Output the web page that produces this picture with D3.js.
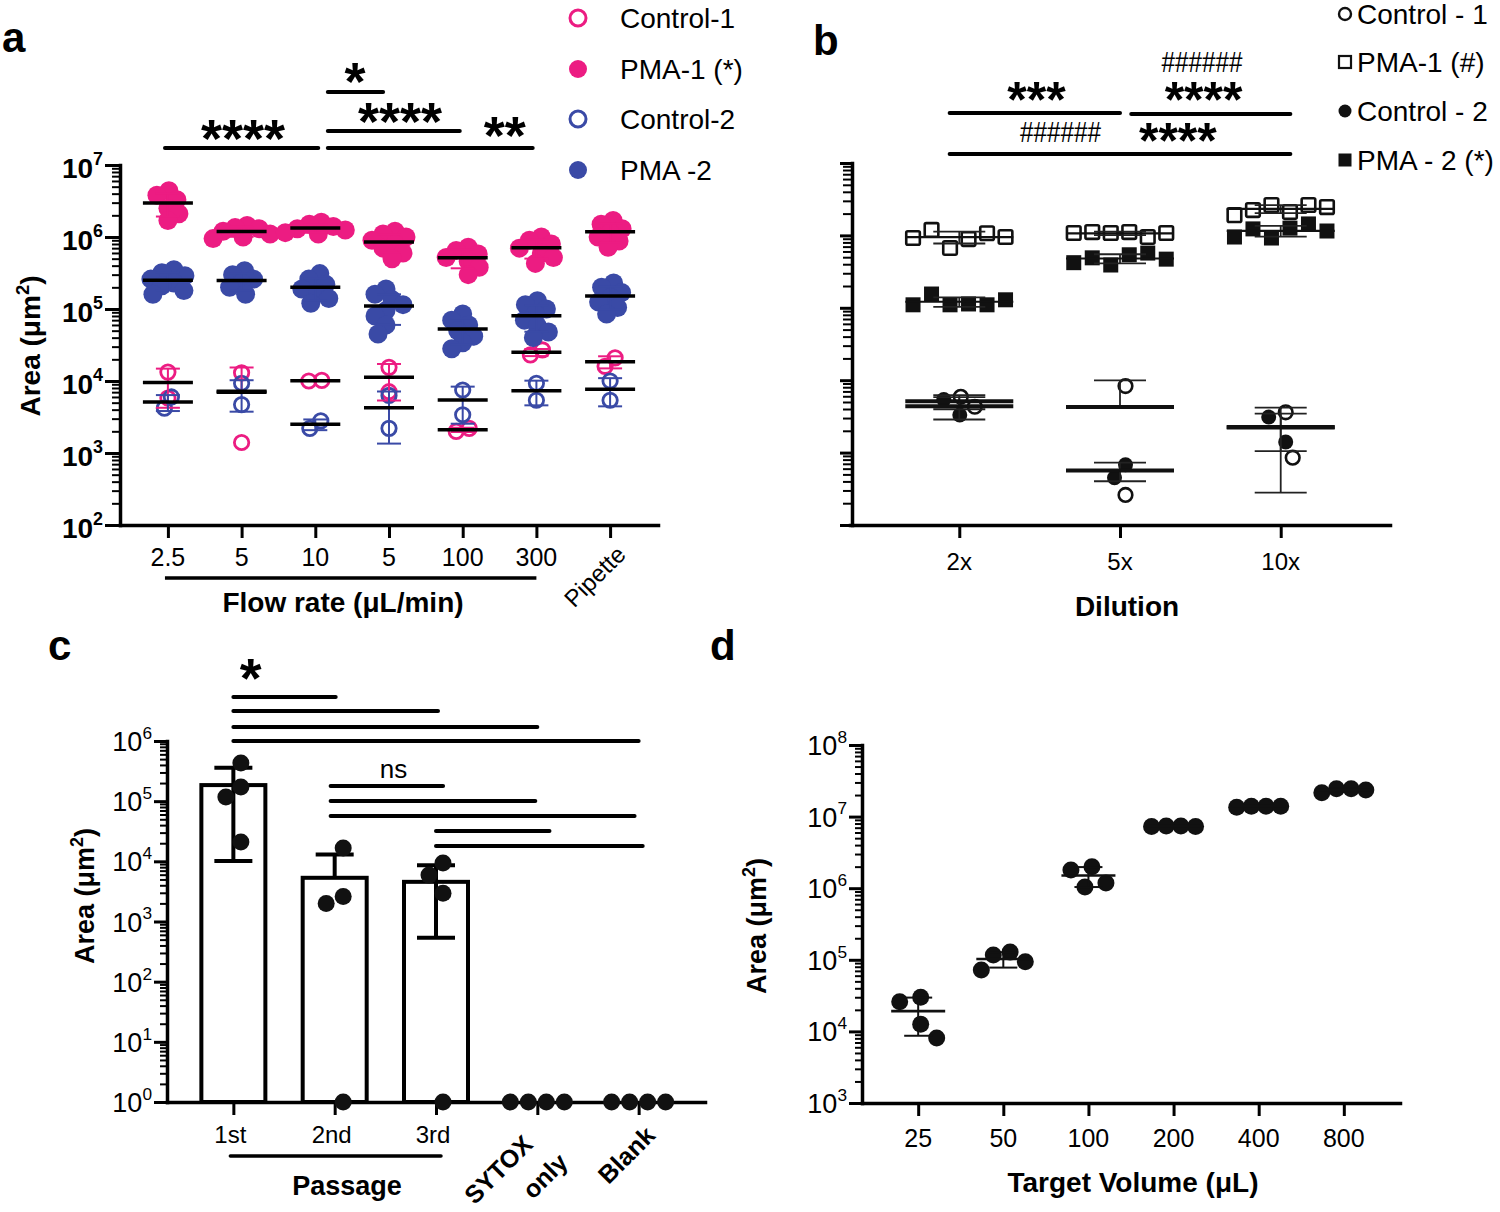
<!DOCTYPE html>
<html><head><meta charset="utf-8">
<script src="https://cdn.jsdelivr.net/npm/d3@7"></script>
<style>body{margin:0;background:#fff}</style>
</head><body><script>
// ================= DATA =================
// Panel a
const flowLabels = ["2.5","5","10","5","100","300","Pipette"];
const aControl1 = [[1.33e4,5.8e3],[1.3e4,1.4e3],[1.02e4,1.0e4],[1.55e4,7.1e3],[2.2e3,2.0e3],[2.7e4,2.3e4],[2.1e4,1.6e4]];
const aPMA1 = [[4.4e6,3.8e6,3.3e6,2.5e6,2.1e6,1.7e6],
  [1.45e6,1.35e6,1.3e6,1.2e6,1.1e6,1.0e6,0.95e6],
  [1.6e6,1.5e6,1.4e6,1.3e6,1.25e6,1.15e6,1.1e6],
  [1.2e6,1.1e6,1.0e6,0.9e6,0.8e6,0.7e6,0.6e6,0.5e6],
  [7.2e5,6.5e5,5.8e5,5.2e5,4.6e5,3.8e5,3.0e5],
  [1.0e6,9.0e5,8.0e5,7.0e5,6.0e5,5.2e5,4.3e5],
  [1.7e6,1.5e6,1.3e6,1.15e6,1.0e6,0.88e6,0.72e6]];
const aControl2 = [[6.0e3,4.2e3],[9.3e3,4.7e3],[2.8e3,2.2e3],[6.3e3,2.2e3],[7.5e3,3.4e3],[9.3e3,5.4e3],[1.0e4,5.4e3]];
const aPMA2 = [[3.5e5,3.2e5,2.9e5,2.6e5,2.3e5,2.1e5,1.8e5,1.6e5],
  [3.4e5,3.0e5,2.6e5,2.3e5,2.0e5,1.6e5],
  [3.1e5,2.6e5,2.2e5,1.9e5,1.65e5,1.4e5,1.2e5],
  [1.9e5,1.6e5,1.35e5,1.15e5,0.95e5,0.8e5,0.6e5,0.45e5],
  [8.5e4,7.0e4,6.0e4,5.0e4,4.2e4,3.4e4,2.8e4],
  [1.3e5,1.15e5,1.0e5,8.5e4,7.0e4,5.8e4,4.8e4,4.0e4],
  [2.3e5,2.0e5,1.7e5,1.45e5,1.25e5,1.05e5,0.85e5]];
const aLegend = ["Control-1","PMA-1 (*)","Control-2","PMA -2"];
const aSig = [{from:-0.04,to:2.04,label:"****",at:1.02},
  {from:2.17,to:2.92,label:"*",at:2.54},
  {from:2.17,to:3.96,label:"****",at:3.15},
  {from:2.17,to:4.95,label:"**",at:4.57}];

// Panel b
const dilutionLabels = ["2x","5x","10x"];
const bControl1 = [[5.9e3,4.3e3],[8.3e3,2.6e2],[3.6e3,8.5e2]];
const bPMA1 = [[9.2e5,1.19e6,6.7e5,8.9e5,1.07e6,9.5e5],
  [1.08e6,1.11e6,1.08e6,1.11e6,9.5e5,1.08e6],
  [1.9e6,2.24e6,2.63e6,2.1e6,2.63e6,2.46e6]];
const bControl2 = [[3.3e3,5.4e3],[6.8e2,4.5e2],[3.1e3,1.4e3]];
const bPMA2 = [[1.1e5,1.55e5,1.1e5,1.13e5,1.1e5,1.29e5],
  [4.2e5,4.9e5,3.9e5,5.4e5,5.7e5,4.7e5],
  [9.5e5,1.23e6,9.2e5,1.26e6,1.44e6,1.15e6]];
const bLegend = ["Control - 1","PMA-1 (#)","Control - 2","PMA - 2 (*)"];
const bSig = [{from:-0.06,to:1.0,labels:[{t:"***",at:0.48}]},
  {from:1.07,to:2.06,labels:[{t:"****",at:1.52},{t:"######",at:1.51}]},
  {from:-0.06,to:2.06,labels:[{t:"######",at:0.63},{t:"****",at:1.36}]}];

// Panel c
const passageLabels = ["1st","2nd","3rd","SYTOX only","Blank"];
const cValues = [[4.3e5,1.72e5,1.17e5,2.1e4],[1.67e4,2.6e3,2.0e3,1],[9.4e3,5.9e3,2.95e3,1],[1,1,1,1],[1,1,1,1]];
const cSig = [{from:0,to:1.01},{from:0,to:2.02},{from:0,to:3.0},{from:0,to:4.0},
  {from:0.96,to:2.07},{from:0.96,to:2.98},{from:0.96,to:3.96},{from:2.0,to:3.12},{from:2.0,to:4.04}];
const cSigLabels = [{t:"*",at:0.17},{t:"ns",at:1.58}];

// Panel d
const volumeLabels = ["25","50","100","200","400","800"];
const dValues = [[8.1e3,2.6e4,3.0e4,1.26e4],[1.28e5,1.17e5,9.4e4,7.2e4],[1.8e6,2.0e6,1.04e6,1.18e6],
  [7.3e6,7.4e6,7.4e6,7.3e6],[1.35e7,1.4e7,1.4e7,1.4e7],[2.15e7,2.45e7,2.35e7,2.45e7]];

// ================= DRAWING =================
const pink = "#EC1C82", blue = "#3A4AA6";
const svg = d3.select("body").append("svg").attr("width",1500).attr("height",1212)
  .style("font-family",'"Liberation Sans", Arial, Helvetica, sans-serif');

function swarm(items, dmin, step, maxSpan){
  const order = items.slice().sort((a,b)=>a.y-b.y);
  const placed = []; let bal = 0;
  for(const p of order){
    for(let k=0;k<500;k++){
      const c = k===0?[0]:(bal<0?[k*step,-k*step]:[-k*step,k*step]);
      let ok = null;
      for(const dx of c){ if(placed.every(q=>Math.hypot(q.dx-dx,q.y-p.y)>=dmin)){ok=dx;break;} }
      if(ok!==null){p.dx=ok;break;}
    }
    placed.push(p); bal += Math.sign(p.dx);
  }
  const lo = d3.min(items,d=>d.dx), hi = d3.max(items,d=>d.dx), mid=(lo+hi)/2;
  const k = (maxSpan && hi-lo>maxSpan) ? maxSpan/(hi-lo) : 1;
  items.forEach(d=>d.dx=(d.dx-mid)*k);
  return items;
}
function stats(v){ const m=d3.mean(v); const s=v.length>1?d3.deviation(v):0; return {m,s}; }

function logY(g, y, x0, lo, hi, o){
  const decs = d3.range(Math.round(Math.log10(lo)), Math.round(Math.log10(hi))+1).map(e=>Math.pow(10,e));
  const minors=[]; for(let i=0;i<decs.length-1;i++) for(let k=2;k<10;k++) minors.push(decs[i]*k);
  const gm = g.append("g").attr("transform",`translate(${x0},0)`)
    .call(d3.axisLeft(y).tickValues(minors).tickSize(o.minor).tickSizeOuter(0).tickFormat(""));
  gm.select(".domain").remove();
  gm.selectAll(".tick line").attr("stroke","#000").attr("stroke-width",2);
  const gM = g.append("g").attr("transform",`translate(${x0},0)`)
    .call(d3.axisLeft(y).tickValues(decs).tickSize(o.major).tickSizeOuter(0).tickFormat(""));
  gM.select(".domain").attr("stroke","#000").attr("stroke-width",3.5).attr("stroke-linecap","square");
  gM.selectAll(".tick line").attr("stroke","#000").attr("stroke-width",3);
  if(o.labels){
    decs.forEach(d=>{
      const t = g.append("text").attr("x",x0-o.major-2).attr("y",y(d)+o.dy)
        .attr("text-anchor","end").attr("font-size",o.fs).attr("font-weight",o.bold?"bold":"normal");
      t.append("tspan").text("10");
      t.append("tspan").attr("dy",-o.fs*0.45).attr("font-size",o.fs*0.64).text(Math.round(Math.log10(d)));
    });
  }
}
function xAxis(g, x, y0, len){
  const ga = g.append("g").attr("transform",`translate(0,${y0})`)
    .call(d3.axisBottom(x).tickSize(len).tickSizeOuter(0).tickFormat(""));
  ga.select(".domain").attr("stroke","#000").attr("stroke-width",3.5).attr("stroke-linecap","square");
  ga.selectAll(".tick line").attr("stroke","#000").attr("stroke-width",3);
}
function areaLabel(g, x, y, fs){
  const t = g.append("text").attr("transform",`translate(${x},${y}) rotate(-90)`)
    .attr("text-anchor","middle").attr("font-size",fs).attr("font-weight","bold");
  t.append("tspan").text("Area (μm");
  t.append("tspan").attr("dy",-fs*0.4).attr("font-size",fs*0.66).text("2");
  t.append("tspan").attr("dy",fs*0.4).text(")");
}
function hline(g,x1,x2,y,w,color,cap){
  g.append("line").attr("x1",x1).attr("x2",x2).attr("y1",y).attr("y2",y)
   .attr("stroke",color||"#000").attr("stroke-width",w).attr("stroke-linecap",cap||"butt");
}
function errBar(g, x, y, m, s, half, w, color){
  const top = y(m+s), lowV = m-s;
  const bot = lowV>y.domain()[0] ? y(lowV) : y(m);
  g.append("line").attr("x1",x).attr("x2",x).attr("y1",top).attr("y2",bot).attr("stroke",color).attr("stroke-width",w);
  hline(g,x-half,x+half,top,w,color);
  if(lowV>y.domain()[0]) hline(g,x-half,x+half,bot,w,color);
}
function stars(g, x, yc, label, fs){
  g.append("text").attr("x",x).attr("y",yc+fs*0.49).attr("text-anchor","middle")
    .attr("font-size",fs).attr("font-weight","bold").text(label);
}
function hashes(g, x, yc, label, fs, len){
  g.append("text").attr("x",x).attr("y",yc+fs*0.36).attr("text-anchor","middle")
    .attr("font-size",fs).attr("textLength",len).attr("lengthAdjust","spacingAndGlyphs").text(label);
}
function panelLetter(x,y,l){ svg.append("text").attr("x",x).attr("y",y).attr("font-size",42).attr("font-weight","bold").text(l); }

// ---------------- Panel a ----------------
{
  const g = svg.append("g");
  const x = d3.scalePoint().domain(d3.range(flowLabels.length)).range([120,658]).padding(0.65);
  const xi = i => x(0) + i*x.step();
  const y = d3.scaleLog().domain([1e2,1e7]).range([525,165]);
  logY(g,y,120,1e2,1e7,{major:15,minor:8,labels:true,bold:true,fs:28,dy:13});
  xAxis(g,x,525,13);
  const series = [{v:aControl1,c:pink,f:false},{v:aPMA1,c:pink,f:true},{v:aControl2,c:blue,f:false},{v:aPMA2,c:blue,f:true}];
  const pts = g.append("g"), eb = g.append("g"), ml = g.append("g");
  series.forEach(s=>{
    s.v.forEach((vals,ci)=>{
      const items = swarm(vals.map(v=>({v,y:y(v)})), s.f?12:13, 1);
      items.forEach(p=>{
        const c = pts.append("circle").attr("cx",x(ci)+p.dx).attr("cy",p.y);
        if(s.f) c.attr("r",9.5).attr("fill",s.c);
        else c.attr("r",7.2).attr("fill","none").attr("stroke",s.c).attr("stroke-width",2.8);
      });
      const st = stats(vals);
      errBar(eb,x(ci),y,st.m,st.s,12,2,s.c);
      hline(ml,x(ci)-25,x(ci)+25,y(st.m),3.5,"#000");
    });
  });
  flowLabels.forEach((l,i)=>{
    if(l==="Pipette"){
      g.append("text").attr("transform",`translate(${x(i)+17},${556}) rotate(-45)`).attr("text-anchor","end")
        .attr("font-size",24).text(l);
    } else {
      g.append("text").attr("x",x(i)).attr("y",566).attr("text-anchor","middle").attr("font-size",25).text(l);
    }
  });
  hline(g,xi(-0.04),x(5),578,3.5,"#000");
  g.append("text").attr("x",343).attr("y",612).attr("text-anchor","middle").attr("font-size",28).attr("font-weight","bold").text("Flow rate (μL/min)");
  areaLabel(g,40,346,28);
  const levels = [148,92,131,148], lab = [131,74,114,128];
  aSig.forEach((s,i)=>{
    hline(g,xi(s.from),xi(s.to),levels[i],4,"#000","round");
    stars(g,xi(s.at),lab[i],s.label,54);
  });
  const ly = [18,69,119,170];
  aLegend.forEach((t,i)=>{
    const col = i<2?pink:blue, filled = i%2===1;
    const c = g.append("circle").attr("cx",578).attr("cy",ly[i]);
    if(filled) c.attr("r",9).attr("fill",col); else c.attr("r",8).attr("fill","none").attr("stroke",col).attr("stroke-width",3);
    g.append("text").attr("x",620).attr("y",ly[i]+10).attr("font-size",28).text(t);
  });
}

// ---------------- Panel b ----------------
{
  const g = svg.append("g");
  const x = d3.scalePoint().domain(d3.range(dilutionLabels.length)).range([850,1390]).padding(0.68);
  const xi = i => x(0) + i*x.step();
  const y = d3.scaleLog().domain([1e2,1e7]).range([525,163]);
  logY(g,y,852,1e2,1e7,{major:12,minor:9,labels:false});
  xAxis(g,x,525,13);
  const pts = g.append("g"), eb = g.append("g"), ml = g.append("g");
  [{v:bPMA1,f:false},{v:bPMA2,f:true}].forEach(s=>{
    s.v.forEach((vals,ci)=>{
      vals.forEach((v,i)=>{
        const cx = x(ci) + (i-(vals.length-1)/2)*18.5, cy = y(v);
        if(s.f) pts.append("rect").attr("x",cx-7.5).attr("y",cy-7.5).attr("width",15).attr("height",15).attr("fill","#111");
        else pts.append("rect").attr("x",cx-6.8).attr("y",cy-6.8).attr("width",13.6).attr("height",13.6).attr("rx",1.5)
          .attr("fill","none").attr("stroke","#111").attr("stroke-width",2.6);
      });
      const st = stats(vals);
      errBar(eb,x(ci),y,st.m,st.s,26,1.8,"#222");
      hline(ml,x(ci)-54,x(ci)+54,y(st.m),2.2,"#111");
    });
  });
  dilutionLabels.forEach((l,ci)=>{
    const items = [];
    bControl1[ci].forEach(v=>items.push({v,y:y(v),f:false}));
    bControl2[ci].forEach(v=>items.push({v,y:y(v),f:true}));
    swarm(items,17,1);
    items.forEach(p=>{
      const c = pts.append("circle").attr("cx",x(ci)+p.dx).attr("cy",p.y);
      if(p.f) c.attr("r",7.5).attr("fill","#111");
      else c.attr("r",6.8).attr("fill","none").attr("stroke","#111").attr("stroke-width",2.6);
    });
    [bControl1[ci],bControl2[ci]].forEach(vals=>{
      const st = stats(vals);
      errBar(eb,x(ci),y,st.m,st.s,26,1.8,"#222");
      hline(ml,x(ci)-54,x(ci)+54,y(st.m),4,"#111");
    });
  });
  dilutionLabels.forEach((l,i)=>g.append("text").attr("x",x(i)).attr("y",570).attr("text-anchor","middle").attr("font-size",24).text(l));
  g.append("text").attr("x",1127).attr("y",616).attr("text-anchor","middle").attr("font-size",28).attr("font-weight","bold").text("Dilution");
  const levels = [113,114,154];
  const labY = [[92],[92,62],[132,133]];
  bSig.forEach((s,i)=>{
    hline(g,xi(s.from),xi(s.to),levels[i],4,"#000","round");
    s.labels.forEach((lb,j)=>{
      if(lb.t[0]==="#") hashes(g,xi(lb.at),labY[i][j],lb.t,29,81);
      else stars(g,xi(lb.at),labY[i][j],lb.t,50);
    });
  });
  const ly = [14,62,111,160];
  bLegend.forEach((t,i)=>{
    const mx = 1345, my = ly[i];
    if(i===0) g.append("circle").attr("cx",mx).attr("cy",my).attr("r",6).attr("fill","none").attr("stroke","#111").attr("stroke-width",2.4);
    if(i===1) g.append("rect").attr("x",mx-6).attr("y",my-6).attr("width",12).attr("height",12).attr("fill","none").attr("stroke","#111").attr("stroke-width",2.2);
    if(i===2) g.append("circle").attr("cx",mx).attr("cy",my).attr("r",6.5).attr("fill","#111");
    if(i===3) g.append("rect").attr("x",mx-6.5).attr("y",my-6.5).attr("width",13).attr("height",13).attr("fill","#111");
    g.append("text").attr("x",1357).attr("y",my+10).attr("font-size",28).text(t);
  });
}

// ---------------- Panel c ----------------
{
  const g = svg.append("g");
  const x = d3.scalePoint().domain(d3.range(passageLabels.length)).range([167,705]).padding(0.655);
  const xi = i => x(0) + i*x.step();
  const y = d3.scaleLog().domain([1,1e6]).range([1102,741]);
  const bars = g.append("g"), eb = g.append("g"), pts = g.append("g");
  cValues.forEach((vals,ci)=>{
    const st = stats(vals);
    if(st.m>1.5){
      bars.append("rect").attr("x",x(ci)-32).attr("y",y(st.m)).attr("width",64).attr("height",y(1)-y(st.m))
        .attr("fill","#fff").attr("stroke","#000").attr("stroke-width",4);
      errBar(eb,x(ci),y,st.m,st.s,19,4,"#000");
    }
    const items = swarm(vals.map(v=>({v,y:y(v)})),18,1,54);
    items.forEach(p=>pts.append("circle").attr("cx",x(ci)+p.dx).attr("cy",p.y).attr("r",8.5).attr("fill","#111"));
  });
  logY(g,y,167,1,1e6,{major:13,minor:7,labels:true,bold:false,fs:27,dy:10});
  xAxis(g,x,1102,13);
  g.node().appendChild(pts.node());
  passageLabels.forEach((l,i)=>{
    if(i<3) g.append("text").attr("x",x(i)-3).attr("y",1143).attr("text-anchor","middle").attr("font-size",24).text(l);
  });
  g.append("text").attr("transform",`translate(${x(3)-3},${1146}) rotate(-45)`).attr("text-anchor","end")
    .attr("font-size",25).attr("font-weight","bold").text("SYTOX");
  g.append("text").attr("transform",`translate(${x(3)+32},${1164}) rotate(-45)`).attr("text-anchor","end")
    .attr("font-size",25).attr("font-weight","bold").text("only");
  g.append("text").attr("transform",`translate(${x(4)+18},${1137}) rotate(-45)`).attr("text-anchor","end")
    .attr("font-size",25).attr("font-weight","bold").text("Blank");
  hline(g,x(0)-3,x(2)+5,1156,3.5,"#000","round");
  g.append("text").attr("x",347).attr("y",1195).attr("text-anchor","middle").attr("font-size",27).attr("font-weight","bold").text("Passage");
  areaLabel(g,94,896,27);
  const levels = [697,711,727,741,786,801,816,831,846];
  cSig.forEach((s,i)=>hline(g,xi(s.from),xi(s.to),levels[i],4,"#000","round"));
  stars(g,xi(cSigLabels[0].at),670,cSigLabels[0].t,56);
  g.append("text").attr("x",xi(cSigLabels[1].at)).attr("y",778).attr("text-anchor","middle").attr("font-size",26).text(cSigLabels[1].t);
}

// ---------------- Panel d ----------------
{
  const g = svg.append("g");
  const x = d3.scalePoint().domain(d3.range(volumeLabels.length)).range([862,1400]).padding(0.66);
  const y = d3.scaleLog().domain([1e3,1e8]).range([1103,745]);
  logY(g,y,862,1e3,1e8,{major:13,minor:7,labels:true,bold:false,fs:27,dy:10});
  xAxis(g,x,1103,13);
  const pts = g.append("g"), ml = g.append("g");
  dValues.forEach((vals,ci)=>{
    const items = swarm(vals.map(v=>({v,y:y(v)})),21,1,44);
    items.forEach(p=>pts.append("circle").attr("cx",x(ci)+p.dx).attr("cy",p.y).attr("r",8.5).attr("fill","#111"));
    const st = stats(vals);
    errBar(ml,x(ci),y,st.m,st.s,14,2,"#111");
    hline(ml,x(ci)-27,x(ci)+27,y(st.m),2.6,"#111");
  });
  volumeLabels.forEach((l,i)=>g.append("text").attr("x",x(i)).attr("y",1147).attr("text-anchor","middle").attr("font-size",25).text(l));
  g.append("text").attr("x",1133).attr("y",1192).attr("text-anchor","middle").attr("font-size",28).attr("font-weight","bold").text("Target Volume (μL)");
  areaLabel(g,766,926,27);
}

panelLetter(2,52,"a");
panelLetter(813,55,"b");
panelLetter(48,660,"c");
panelLetter(710,660,"d");
</script></body></html>
